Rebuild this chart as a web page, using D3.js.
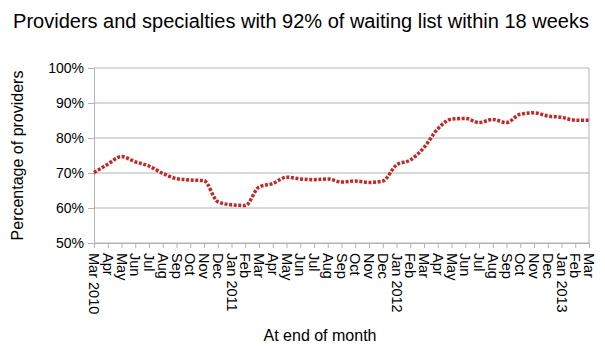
<!DOCTYPE html>
<html>
<head>
<meta charset="utf-8">
<script src="https://cdn.jsdelivr.net/npm/d3@7"></script>
<style>
  body { margin: 0; background: #fff; }
  text { font-family: "Liberation Sans", Arial, sans-serif; fill: #000; }
  .tick line { stroke: #b3b3b3; }
  .grid line { stroke: #b3b3b3; }
</style>
</head>
<body>
<svg width="605" height="353"></svg>
<script>
const months = ['Mar 2010', 'Apr', 'May', 'Jun', 'Jul', 'Aug', 'Sep', 'Oct', 'Nov', 'Dec',
    'Jan 2011', 'Feb', 'Mar', 'Apr', 'May', 'Jun', 'Jul', 'Aug', 'Sep', 'Oct', 'Nov', 'Dec',
    'Jan 2012', 'Feb', 'Mar', 'Apr', 'May', 'Jun', 'Jul', 'Aug', 'Sep', 'Oct', 'Nov', 'Dec',
    'Jan 2013', 'Feb', 'Mar'];
const percent = [70.1, 72.5, 74.7, 73.2, 72.0, 69.9, 68.4, 68.0, 67.8, 61.8,
    60.9, 60.7, 66.0, 67.0, 68.8, 68.3, 68.1, 68.3, 67.4, 67.7, 67.3, 67.7,
    72.3, 73.7, 77.3, 82.6, 85.4, 85.6, 84.4, 85.3, 84.4, 86.8, 87.2, 86.3,
    85.9, 85.1, 85.1];
const yTicks = [50, 60, 70, 80, 90, 100];

const svg = d3.select('svg');
const width = +svg.attr('width');
const height = +svg.attr('height');

const margin = { top: 68, right: 16, bottom: 110, left: 94 };
const innerWidth = width - margin.left - margin.right;
const innerHeight = height - margin.top - margin.bottom;

const data = months.map((m, i) => ({ key: i, label: m, value: percent[i] }));

// scales in page coordinates
const xScale = d3.scalePoint()
    .domain(data.map(d => d.key))
    .range([margin.left, width - margin.right]);

const yScale = d3.scaleLinear()
    .domain([50, 100])
    .range([margin.top + innerHeight, margin.top]);

// grid
svg.append('g').attr('class', 'grid')
    .selectAll('line').data(yTicks).enter().append('line')
    .attr('x1', margin.left).attr('x2', width - margin.right)
    .attr('y1', d => yScale(d)).attr('y2', d => yScale(d));

svg.append('line')
    .attr('x1', width - margin.right).attr('x2', width - margin.right)
    .attr('y1', margin.top).attr('y2', margin.top + innerHeight)
    .attr('stroke', '#b3b3b3');

const yAxisG = svg.append('g')
    .attr('transform', `translate(${margin.left},0)`)
    .call(d3.axisLeft(yScale).tickValues(yTicks).tickFormat('').tickSize(6));
yAxisG.select('.domain').attr('stroke', '#b3b3b3');

svg.selectAll('.ylab').data(yTicks).enter().append('text')
    .attr('class', 'ylab')
    .attr('x', margin.left - 10)
    .attr('y', d => yScale(d) + 5)
    .attr('text-anchor', 'end')
    .style('font-size', '14px')
    .text(d => d + '%');

const xAxisG = svg.append('g')
    .attr('transform', `translate(0,${margin.top + innerHeight})`)
    .call(d3.axisBottom(xScale).tickFormat('').tickSize(5).tickSizeOuter(0));
xAxisG.select('.domain').attr('stroke', '#b3b3b3');

svg.selectAll('.xlab').data(data).enter().append('text')
    .attr('class', 'xlab')
    .attr('transform', d => `translate(${xScale(d.key) - 5},${margin.top + innerHeight + 10}) rotate(90)`)
    .style('font-size', '14.5px')
    .text(d => d.label);

// titles
svg.append('text')
    .attr('x', 301)
    .attr('y', 28)
    .attr('text-anchor', 'middle')
    .style('font-size', '20px')
    .text('Providers and specialties with 92% of waiting list within 18 weeks');

svg.append('text')
    .attr('transform', `translate(23,${margin.top + innerHeight / 2}) rotate(-90)`)
    .attr('text-anchor', 'middle')
    .style('font-size', '16px')
    .text('Percentage of providers');

svg.append('text')
    .attr('x', 320)
    .attr('y', 341)
    .attr('text-anchor', 'middle')
    .style('font-size', '16px')
    .text('At end of month');

const lineGenerator = d3.line()
    .x(d => xScale(d.key))
    .y(d => yScale(d.value))
    .curve(d3.curveMonotoneX);

svg.append('path')
    .attr('d', lineGenerator(data))
    .attr('fill', 'none')
    .attr('stroke', '#cc2424')
    .attr('stroke-width', 3.5)
    .attr('stroke-dasharray', '3,1.6');
</script>
</body>
</html>
